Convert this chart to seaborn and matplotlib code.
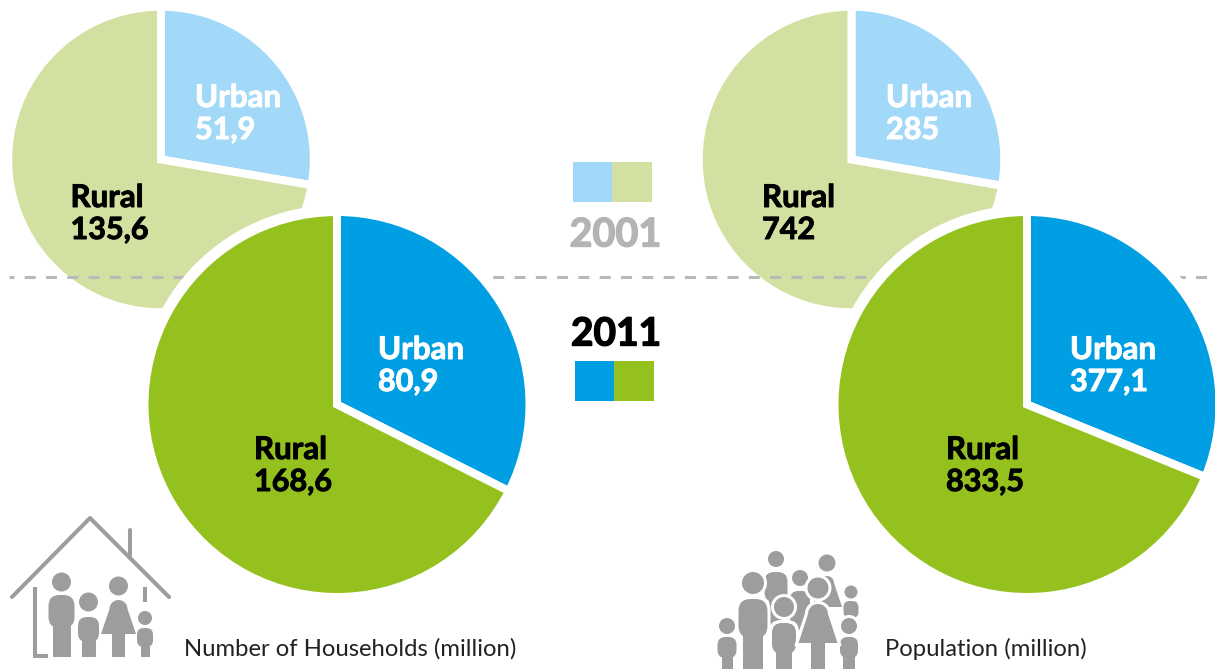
import matplotlib
matplotlib.use("Agg")
import matplotlib.pyplot as plt
import matplotlib.patheffects as pe
from matplotlib.patches import Circle, FancyBboxPatch, Polygon, Rectangle
import numpy as np
import seaborn as sns

sns.set_theme(style="white")
plt.rcParams['font.family'] = ['Lato', 'DejaVu Sans']

# ---- data ----
categories = ["Urban", "Rural"]
households_2001 = [51.9, 135.6]
households_2011 = [80.9, 168.6]
population_2001 = [285, 742]
population_2011 = [377.1, 833.5]
years = ["2001", "2011"]
caption_households = "Number of Households (million)"
caption_population = "Population (million)"

colors_2001 = sns.color_palette(["#a3d9f8", "#d2e1a1"])
colors_2011 = sns.color_palette(["#009fe3", "#95c11f"])
ICON = "#9d9d9c"

W, H = 1215, 670
fig = plt.figure(figsize=(W / 100, H / 100), dpi=100)
ax = fig.add_axes([0, 0, 1, 1])
ax.set_xlim(0, W)
ax.set_ylim(0, H)
ax.set_aspect("equal")
ax.axis("off")

GAP = 8  # white gap between slices, pixels


def Y(y):
    return H - y


def fmt(v):
    return str(v).replace(".", ",")


def pie(values, cx, cy, r, colors, halo=False, z=1):
    if halo:
        ax.add_patch(Circle((cx, Y(cy)), r + 11, fc="white", ec="none", zorder=z - 0.5))
        ax.add_patch(Circle((cx, Y(cy)), r + 6, fc="none", ec="#f1f4e2", lw=0.7, zorder=z - 0.4))
    # the white edge eats GAP/2 of the radius, so the drawn radius makes up for it
    wedges, _ = ax.pie(values, center=(cx, Y(cy)), radius=r + GAP / 2, colors=colors, startangle=90,
                       counterclock=False, frame=False,
                       wedgeprops=dict(linewidth=GAP * 0.72, edgecolor="white", zorder=z))
    return wedges


def heavy(color, w=0.7):
    return [pe.withStroke(linewidth=w, foreground=color)]


def pie_label(x, y, name, value, color):
    ax.text(x, Y(y), name, color=color, fontsize=22.5, fontweight="bold", ha="left",
            va="center", zorder=6, path_effects=heavy(color))
    ax.text(x, Y(y + 32), fmt(value), color=color, fontsize=22, fontweight="bold", ha="left",
            va="center", zorder=6, path_effects=heavy(color))


pie(households_2001, 161, 159.5, 148.8, colors_2001)
pie(population_2001, 851.5, 159.5, 148.8, colors_2001)

# dashed separator: above the pale 2001 pies, below the halo of the 2011 pies
ax.plot([9, W], [Y(277), Y(277)], color="#b9b9b9", lw=2.2, linestyle=(2.0, (3.6, 3.37)), zorder=2)

pie(households_2011, 337, 404.5, 188.5, colors_2011, halo=True, z=3)
pie(population_2011, 1027, 404.5, 188.5, colors_2011, halo=True, z=3)
ax.set_xlim(0, W)
ax.set_ylim(0, H)

pie_label(195, 98, categories[0], households_2001[0], "white")
pie_label(70.5, 198, categories[1], households_2001[1], "black")
pie_label(378, 350, categories[0], households_2011[0], "white")
pie_label(254, 450, categories[1], households_2011[1], "black")
pie_label(886, 98, categories[0], population_2001[0], "white")
pie_label(762, 198, categories[1], population_2001[1], "black")
pie_label(1070, 350, categories[0], population_2011[0], "white")
pie_label(946, 450, categories[1], population_2011[1], "black")

# year legend
ax.add_patch(Rectangle((573, Y(202)), 39, 40, fc=colors_2001[0], ec="none", zorder=4))
ax.add_patch(Rectangle((612, Y(202)), 40, 40, fc=colors_2001[1], ec="none", zorder=4))
ax.add_patch(Rectangle((575, Y(401)), 39, 40, fc=colors_2011[0], ec="none", zorder=4))
ax.add_patch(Rectangle((614, Y(401)), 40, 40, fc=colors_2011[1], ec="none", zorder=4))
ax.text(615.5, Y(235), years[0], color="#b4b4b4", fontsize=28.5, fontweight="bold", ha="center",
        va="center", zorder=6, path_effects=heavy("#b4b4b4", 1.0))
ax.text(616, Y(334), years[1], color="black", fontsize=28, fontweight="bold", ha="center",
        va="center", zorder=6, path_effects=heavy("black", 1.0))

ax.text(184, Y(649), caption_households, color="#222222", fontsize=17.2, ha="left", va="center", zorder=6)
ax.text(885, Y(649), caption_population, color="#222222", fontsize=17.2, ha="left", va="center", zorder=6)


def person(x, hy, hr, bw, btop, bbot, lw, bottom, ring=False, z=7):
    """Rounded-body figure: head circle, torso, legs (pixel layout of the icon)."""
    bh = bbot - btop
    rs = min(bw, bh) * 0.42
    if ring:
        ax.add_patch(Circle((x, Y(hy)), hr + 3, fc="white", ec="none", zorder=z))
        ax.add_patch(FancyBboxPatch((x - bw / 2 - 3, Y(bbot + 3)), bw + 6, bh + 6,
                                    boxstyle=f"round,pad=0,rounding_size={rs + 2}",
                                    fc="white", ec="none", zorder=z))
        ax.add_patch(Rectangle((x - lw / 2 - 3, Y(bottom)), lw + 6, bottom - bbot, fc="white", ec="none", zorder=z))
    ax.add_patch(Circle((x, Y(hy)), hr, fc=ICON, ec="none", zorder=z + 0.1))
    ax.add_patch(FancyBboxPatch((x - bw / 2, Y(bbot)), bw, bh, boxstyle=f"round,pad=0,rounding_size={rs}",
                                fc=ICON, ec="none", zorder=z + 0.1))
    ax.add_patch(Rectangle((x - lw / 2, Y(bottom)), lw, bottom - bbot + rs, fc=ICON, ec="none", zorder=z + 0.1))


def woman(x, hy, hr, sw, dtop, hem, dbot, lw, bottom, ring=False, z=7):
    """Dress figure: head circle, dome-topped dress, legs (pixel layout of the icon)."""
    t = np.linspace(np.pi, 0, 20)
    arc = [(x + sw / 2 * np.cos(a), dtop + sw / 2 - sw / 2 * np.sin(a)) for a in t]
    shape = arc + [(x + hem / 2, dbot), (x - hem / 2, dbot)]
    pts = [(a, Y(b)) for a, b in shape]
    if ring:
        ax.add_patch(Circle((x, Y(hy)), hr + 3, fc="white", ec="none", zorder=z))
        ax.add_patch(Polygon(pts, closed=True, fc="white", ec="white", lw=4.5, zorder=z))
    ax.add_patch(Circle((x, Y(hy)), hr, fc=ICON, ec="none", zorder=z + 0.1))
    ax.add_patch(Polygon(pts, closed=True, fc=ICON, ec="none", zorder=z + 0.1))
    if bottom > dbot:
        ax.add_patch(Rectangle((x - lw / 2, Y(bottom)), lw, bottom - dbot + 1, fc=ICON, ec="none", zorder=z + 0.1))


# house icon
line = dict(color=ICON, lw=2.9, solid_capstyle="round", solid_joinstyle="round", zorder=7)
ax.plot([12, 90, 169], [Y(597), Y(518), Y(597)], **line)
ax.plot([129.5, 129.5], [Y(530), Y(558)], **line)
ax.plot([35, 35, 48], [Y(587), Y(656), Y(656)], **dict(line, solid_capstyle="butt", solid_joinstyle="miter"))
ax.plot([145, 145], [Y(587), Y(602)], **dict(line, solid_capstyle="butt"))
person(61.5, 582, 9.5, 26, 595, 628, 18, 657)
person(88.5, 602, 9.5, 21, 617, 642, 14, 657)
woman(118.5, 586, 9.5, 18, 600, 35, 634, 13, 657)
person(145, 618, 7, 16, 628, 647, 9, 657)

# crowd icon
person(776, 559, 8, 23, 572, 602, 14, 625, z=7)
woman(827, 563, 8.5, 14, 576, 30, 607, 10, 607, z=7)
person(800, 578, 8, 20, 591, 627, 12, 630, z=7)
person(851, 592, 6.5, 15, 601, 618, 8, 622, z=7)
person(753, 583, 11, 29, 599, 638, 20, 669, ring=True, z=8)
person(727, 626, 8, 19, 637, 658, 11, 669, z=9)
person(784, 607, 10, 24, 623, 654, 16, 669, ring=True, z=10)
woman(818, 588, 10.5, 20, 604, 39, 643, 14, 669, ring=True, z=11)
person(849, 626, 8, 18, 637, 658, 12, 669, ring=True, z=9)

fig.savefig("out.png", dpi=100)
